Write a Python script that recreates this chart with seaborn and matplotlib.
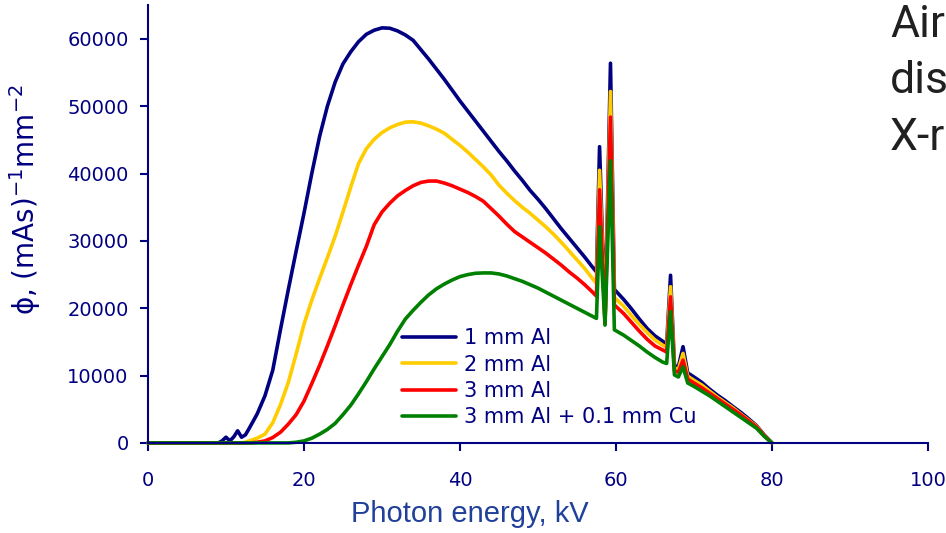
import numpy as np
import pandas as pd
import matplotlib
matplotlib.use("Agg")
import matplotlib.pyplot as plt
import seaborn as sns

# photon energy grid (kV), denser around the characteristic lines
energy = [0, 8, 9, 9.5, 10, 10.5, 11, 11.5, 12, 12.5,
          13, 14, 15, 16, 17, 18, 19, 20, 21, 22,
          23, 24, 25, 26, 27, 28, 29, 30, 31, 32,
          33, 34, 35, 36, 37, 38, 39, 40, 41, 42,
          43, 44, 45, 46, 47, 48, 49, 50, 51, 52,
          53, 54, 55, 56, 57,
          57.5, 57.9, 58.6, 59.3, 59.8,
          61, 62, 63, 64, 65, 66,
          66.5, 67, 67.5, 68, 68.6, 69.2,
          70, 71, 72, 73, 74, 75, 76, 77, 78, 79, 80]

al_1mm = [0, 0, 0, 300, 850, 300, 900, 1800, 850, 1200,
          2200, 4300, 7000, 10800, 16900, 22800, 28500, 34100, 40000, 45500,
          50000, 53600, 56300, 58100, 59600, 60700, 61300, 61650, 61600, 61200,
          60600, 59800, 58400, 57000, 55500, 54000, 52400, 50800, 49300, 47800,
          46300, 44800, 43300, 41900, 40400, 39000, 37500, 36200, 34800, 33300,
          31800, 30400, 29000, 27600, 26100,
          25400, 44000, 18000, 56400, 22800,
          21300, 19900, 18400, 17000, 15900, 15100,
          14700, 24900, 11500, 11300, 14300, 10400,
          9800, 9000, 8000, 7100, 6300, 5400, 4550, 3600, 2600, 1200, 0]

al_2mm = [0, 0, 0, 0, 0, 0, 0, 0, 0, 100,
          300, 700, 1300, 3000, 5700, 9000, 13200, 17600, 21200, 24400,
          27500, 30700, 34300, 38000, 41500, 43700, 45100, 46100, 46800, 47300,
          47650, 47700, 47500, 47100, 46600, 46000, 45100, 44200, 43200, 42100,
          41000, 39800, 38300, 37100, 36000, 35000, 34100, 33100, 32100, 31000,
          29800, 28500, 27200, 25900, 24400,
          23700, 40500, 17800, 52200, 21600,
          20300, 18900, 17600, 16400, 15300, 14500,
          14200, 23200, 11100, 10900, 13300, 9900,
          9300, 8600, 7700, 6800, 6000, 5200, 4300, 3400, 2500, 1100, 0]

al_3mm = [0, 0, 0, 0, 0, 0, 0, 0, 0, 0,
          0, 100, 300, 800, 1600, 2800, 4200, 6200, 8800, 11500,
          14400, 17400, 20500, 23500, 26400, 29200, 32400, 34300, 35600, 36700,
          37500, 38200, 38700, 38900, 38900, 38600, 38200, 37700, 37200, 36600,
          35900, 34800, 33700, 32500, 31400, 30600, 29800, 29000, 28200, 27300,
          26400, 25400, 24500, 23500, 22400,
          21800, 37600, 17700, 48400, 20500,
          19200, 17900, 16600, 15400, 14400, 13800,
          13500, 21700, 10700, 10500, 12300, 9500,
          8900, 8200, 7400, 6600, 5800, 5000, 4200, 3300, 2400, 1100, 0]

al_3mm_cu = [0, 0, 0, 0, 0, 0, 0, 0, 0, 0,
             0, 0, 0, 0, 0, 0, 100, 300, 700, 1300,
             2000, 2900, 4200, 5600, 7300, 9100, 11000, 12800, 14600, 16600,
             18400, 19700, 20900, 22000, 22900, 23600, 24200, 24700, 25000, 25200,
             25250, 25250, 25100, 24800, 24400, 24000, 23500, 23000, 22400, 21800,
             21200, 20600, 20000, 19400, 18800,
             18500, 32100, 17500, 41900, 16800,
             16000, 15200, 14400, 13500, 12700, 12000,
             11800, 19500, 10100, 9800, 11300, 8900,
             8400, 7700, 7000, 6200, 5400, 4600, 3800, 3000, 2200, 1000, 0]

filters = ["1 mm Al", "2 mm Al", "3 mm Al", "3 mm Al + 0.1 mm Cu"]
colors = ["#000080", "#FFCC00", "#FF0000", "#008000"]

x_ticks = [0, 20, 40, 60, 80, 100]
y_ticks = [0, 10000, 20000, 30000, 40000, 50000, 60000]

navy = "#000080"

df = pd.DataFrame({
    "energy": energy * 4,
    "phi": al_1mm + al_2mm + al_3mm + al_3mm_cu,
    "filter": np.repeat(filters, len(energy)),
})

sns.set_style("ticks")
plt.rcParams["font.family"] = ["DejaVu Sans"]

fig = plt.figure(figsize=(9.46, 5.33), dpi=100)
ax = fig.add_axes([0.1564, 0.169, 0.8245, 0.821])

sns.lineplot(data=df, x="energy", y="phi", hue="filter", hue_order=filters,
             palette=colors, estimator=None, sort=False, linewidth=2.6,
             legend=False, ax=ax)
for line in ax.lines:
    line.set_clip_on(False)

ax.set_xlim(0, 100)
ax.set_ylim(0, 65000)
ax.set_xticks(x_ticks)
ax.set_yticks(y_ticks)
ax.set_xlabel("")
ax.set_ylabel("")

for side in ["top", "right"]:
    ax.spines[side].set_visible(False)
for side in ["left", "bottom"]:
    ax.spines[side].set_color(navy)
    ax.spines[side].set_linewidth(1.5)

ax.tick_params(axis="both", colors=navy, width=1.5, length=6, labelsize=14)
ax.tick_params(axis="x", pad=14)
ax.tick_params(axis="y", pad=8)

ax.legend(ax.lines[:4], filters, loc="center left", bbox_to_anchor=(0.3253, 0.149),
          frameon=False, fontsize=15, labelcolor=navy, handlelength=2.6,
          handletextpad=0.4, labelspacing=0.3, borderpad=0, borderaxespad=0)

fig.text(0.497, 0.0356, "Photon energy, kV", ha="center", va="center",
         fontsize=21, color="#20409A", family=["Liberation Sans"])
fig.text(0.027, 0.625, "ϕ, (mAs)$^{-1}$mm$^{-2}$", rotation=90,
         ha="center", va="center", fontsize=20, color=navy)

for label, yb in zip(["Air", "dis", "X-r"], [0.9306, 0.8255, 0.7186]):
    fig.text(0.9408, yb, label, ha="left", va="baseline", fontsize=32,
             color="#202020", family=["Roboto"])

fig.savefig("out.png", dpi=100)
